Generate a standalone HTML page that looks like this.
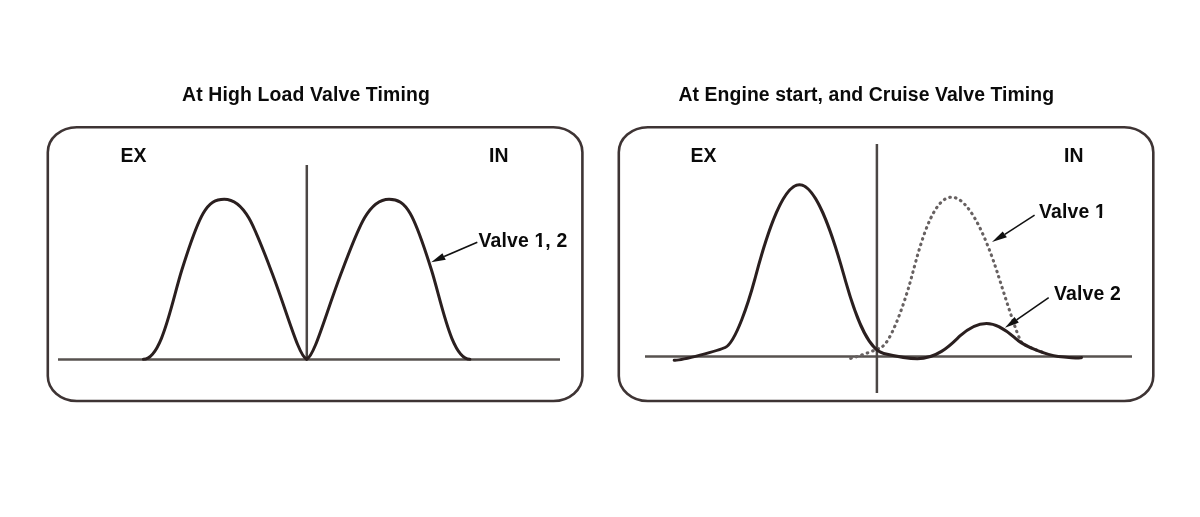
<!DOCTYPE html>
<html><head><meta charset="utf-8"><style>
html,body{margin:0;padding:0;background:#fff;width:1200px;height:517px;overflow:hidden}
svg{position:absolute;left:0;top:0;will-change:transform}
text{font-family:"Liberation Sans",sans-serif;font-weight:bold;fill:#0a0a0a;letter-spacing:0.15px}
</style></head><body>
<svg width="1200" height="517" viewBox="0 0 1200 517">
<text x="182" y="100.8" font-size="19.4">At High Load Valve Timing</text>
<text x="678.5" y="100.8" font-size="19.4" style="letter-spacing:0.08px">At Engine start, and Cruise Valve Timing</text>
<rect x="47.8" y="127.2" width="534.6" height="273.8" rx="29" ry="25" fill="none" stroke="#3e3434" stroke-width="2.6"/>
<rect x="618.8" y="127.2" width="534.5" height="273.8" rx="29" ry="25" fill="none" stroke="#3e3434" stroke-width="2.6"/>
<text x="120.5" y="161.8" font-size="19.4">EX</text>
<text x="489" y="161.8" font-size="19.4">IN</text>
<text x="690.5" y="161.8" font-size="19.4">EX</text>
<text x="1064" y="161.8" font-size="19.4">IN</text>
<line x1="58" y1="359.5" x2="560" y2="359.5" stroke="#57524f" stroke-width="2.7"/>
<line x1="306.8" y1="165" x2="306.8" y2="359" stroke="#4c4745" stroke-width="2.5"/>
<line x1="645" y1="356.5" x2="1132" y2="356.5" stroke="#57524f" stroke-width="2.7"/>
<line x1="876.9" y1="144" x2="876.9" y2="393" stroke="#4c4745" stroke-width="2.5"/>
<clipPath id="dc"><rect x="847" y="0" width="198" height="517"/></clipPath>
<path id="d1" clip-path="url(#dc)" d="M845.00,358.30 C846.92,361.66 878.04,349.05 881.34,347.32 C890.62,342.45 903.00,306.58 909.09,285.93 C916.47,260.93 929.77,197.20 951.56,197.20 C972.24,197.20 991.42,254.03 998.08,274.86 C1004.15,293.83 1017.56,336.97 1021.39,342.06 C1027.36,350.02 1085.51,365.77 1081.00,357.50" fill="none" stroke="#676161" stroke-width="3.1" stroke-linecap="round" stroke-dasharray="0.6 5.14" stroke-dashoffset="5.58"/>
<path d="M143.40,359.30 C161.62,359.30 171.58,302.88 181.75,270.31 C199.67,212.98 206.97,199.20 224.20,199.20 C244.57,199.20 254.40,226.08 272.15,273.30 C289.09,318.40 298.70,355.36 306.60,359.20" fill="none" stroke="#2a1f1f" stroke-width="3" stroke-linecap="round" stroke-linejoin="round"/>
<path d="M306.70,359.20 C314.60,355.36 324.21,318.40 341.15,273.30 C358.90,226.08 368.73,199.20 389.10,199.20 C406.33,199.20 413.63,212.98 431.55,270.31 C441.72,302.88 451.68,359.30 469.90,359.30" fill="none" stroke="#2a1f1f" stroke-width="3" stroke-linecap="round" stroke-linejoin="round"/>
<path d="M674.20,360.20 C680.17,361.26 720.19,349.93 725.21,347.52 C735.82,342.43 748.88,301.01 754.60,280.00 C760.03,260.01 778.93,184.75 799.50,184.75 C819.87,184.75 839.26,258.93 845.64,281.44 C853.21,308.12 866.08,349.13 883.73,353.44 C884.75,353.68 905.58,358.64 917.39,358.64 C938.85,358.64 952.81,342.50 959.97,335.95 C965.68,330.74 976.01,323.43 986.54,323.43 C999.98,323.43 1011.75,335.30 1015.72,338.72 C1025.93,347.52 1047.94,355.14 1058.26,356.48 C1062.56,357.04 1081.77,358.70 1081.50,357.50" fill="none" stroke="#2a1f1f" stroke-width="3" stroke-linecap="round" stroke-linejoin="round"/>
<line x1="477.3" y1="242.2" x2="444.1" y2="256.6" stroke="#111" stroke-width="1.6"/><polygon points="431.2,262.3 442.4,253.3 445.8,259.8" fill="#111"/>
<text x="478.5" y="246.6" font-size="19.4">Valve 1, 2</text>
<rect x="534.6" y="244.5" width="4.1" height="3" fill="#fff"/><rect x="541.95" y="244.5" width="3.6" height="3" fill="#fff"/>
<line x1="1034.6" y1="215.1" x2="1004.8" y2="234.4" stroke="#111" stroke-width="1.6"/><polygon points="992,242.1 1002.7,231.6 1006.9,237.3" fill="#111"/>
<text x="1039" y="218.2" font-size="19.4">Valve 1</text>
<rect x="1095.2" y="215.6" width="4.1" height="3" fill="#fff"/><rect x="1102.05" y="215.6" width="4" height="3" fill="#fff"/>
<line x1="1048.7" y1="297.7" x2="1016.6" y2="319.9" stroke="#111" stroke-width="1.6"/><polygon points="1004.9,327.8 1014.5,317.1 1018.8,322.6" fill="#111"/>
<text x="1054" y="300.2" font-size="19.4">Valve 2</text>
</svg>
</body></html>
